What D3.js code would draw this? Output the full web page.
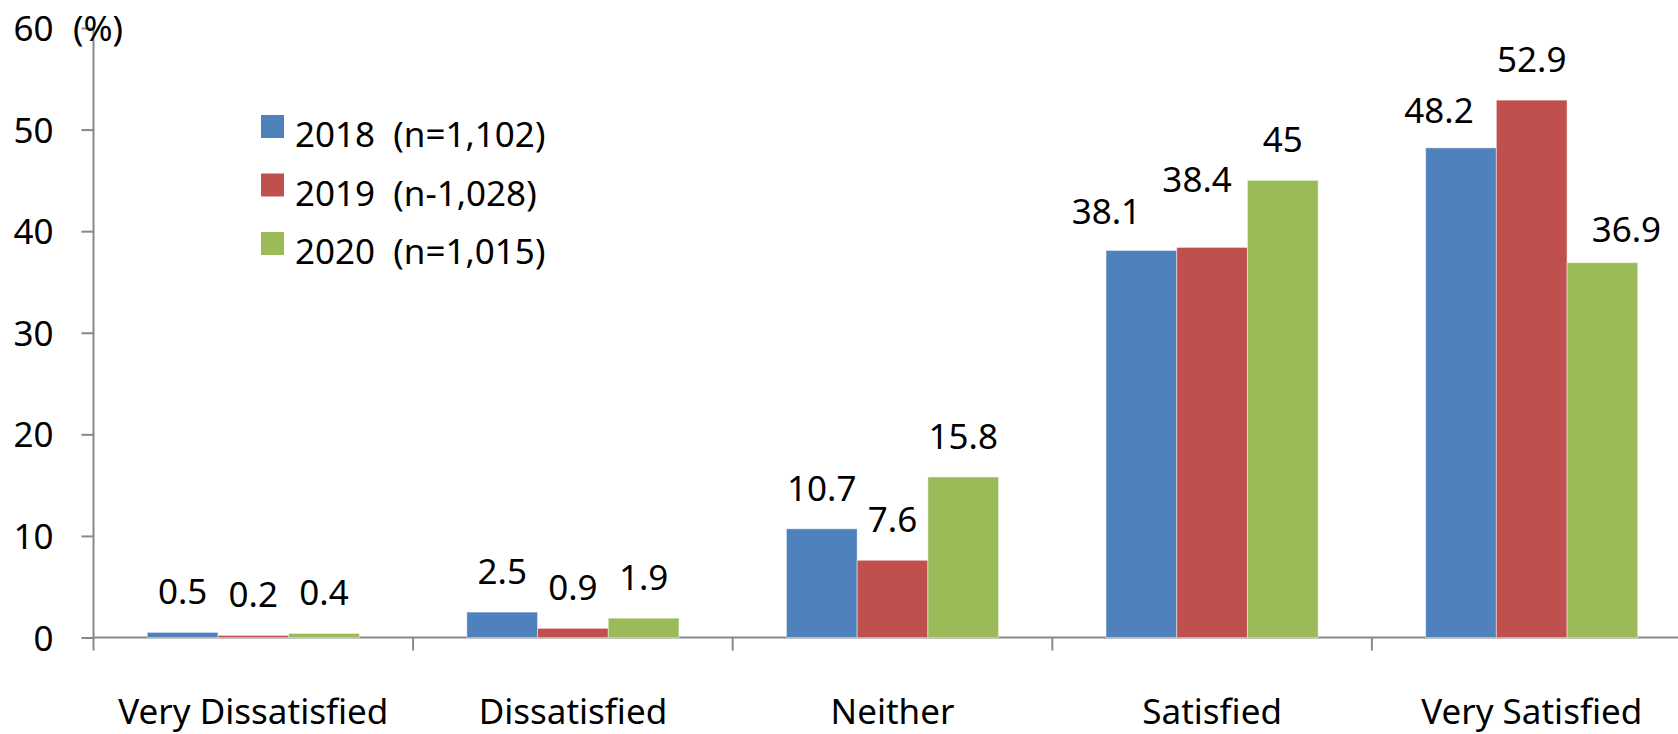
<!DOCTYPE html>
<html>
<head>
<meta charset="utf-8">
<script src="https://cdn.jsdelivr.net/npm/d3@7"></script>
<style>
  body { margin: 0; background: #fff; overflow: hidden; }
  text { font-family: "Noto Sans", "Open Sans", sans-serif; fill: #000; }
</style>
</head>
<body>
<script>
// satisfaction survey, three years
var categories = ["Very Dissatisfied", "Dissatisfied", "Neither", "Satisfied", "Very Satisfied"];
var seriesNames = ["2018\u00a0 (n=1,102)", "2019\u00a0 (n-1,028)", "2020\u00a0 (n=1,015)"];
var colors = ["#4F81BD", "#C0504D", "#9BBB59"];
var values2018 = [0.5, 2.5, 10.7, 38.1, 48.2];
var values2019 = [0.2, 0.9, 7.6, 38.4, 52.9];
var values2020 = [0.4, 1.9, 15.8, 45, 36.9];
var yTicks = [0, 10, 20, 30, 40, 50, 60];

// hand-moved data labels (as in the original), [dx, dy] in px
var labelNudge = {
  "0-3": [-35, 2],
  "1-3": [-15, -27],
  "0-4": [-22, 3],
  "2-4": [24, 7]
};

var w = 1678, h = 734;
var x0 = 93.5, yZero = 637.5, yTop = 28;
var bandW = 319.6;
var fs = "35px";

var series = [values2018, values2019, values2020];

var svg = d3.select("body").append("svg")
  .attr("width", w)
  .attr("height", h);

var x = d3.scaleBand()
  .domain(categories)
  .range([x0, x0 + bandW * categories.length])
  .paddingInner(0)
  .paddingOuter(0);

var xInner = d3.scaleBand()
  .domain(d3.range(series.length))
  .range([0, x.bandwidth()])
  .paddingOuter(0.76)
  .paddingInner(0);

var y = d3.scaleLinear()
  .domain([0, 60])
  .range([yZero, yTop]);

// y axis
var yAxis = svg.append("g")
  .attr("transform", "translate(" + x0 + ",0)")
  .call(d3.axisLeft(y).tickValues(yTicks).tickSize(12).tickPadding(28));
yAxis.selectAll("path, line").attr("stroke", "#888").attr("stroke-width", 2);
yAxis.select(".domain").attr("d", "M0," + yTop + "V" + yZero);
yAxis.selectAll("text")
  .style("font-size", fs)
  .attr("dy", "0.36em");

// x axis
var xAxis = svg.append("g")
  .attr("transform", "translate(0," + yZero + ")")
  .call(d3.axisBottom(x).tickSize(0).tickPadding(0));
xAxis.select(".domain").attr("stroke", "#888").attr("stroke-width", 2)
  .attr("d", "M" + x0 + ",0H" + (x0 + bandW * categories.length));
xAxis.selectAll(".tick text")
  .attr("y", 86)
  .attr("dy", 0)
  .style("font-size", fs);
// category separators
xAxis.selectAll(".sep")
  .data(d3.range(categories.length + 1))
  .enter().append("line")
  .attr("x1", function(d){ return x0 + d * bandW; })
  .attr("x2", function(d){ return x0 + d * bandW; })
  .attr("y1", 0)
  .attr("y2", 13)
  .attr("stroke", "#888")
  .attr("stroke-width", 2);

svg.append("text")
  .attr("x", 73)
  .attr("y", 41)
  .style("font-size", fs)
  .text("(%)");

// bars
var groups = svg.selectAll("g.cat")
  .data(categories)
  .enter().append("g")
  .attr("class", "cat")
  .attr("transform", function(d){ return "translate(" + x(d) + ",0)"; });

groups.each(function(cat, ci) {
  var g = d3.select(this);
  series.forEach(function(vals, si) {
    var v = vals[ci];
    var nudge = labelNudge[si + "-" + ci] || [0, 0];
    g.append("rect")
      .attr("x", xInner(si))
      .attr("y", y(v))
      .attr("width", xInner.bandwidth())
      .attr("height", yZero - y(v))
      .attr("fill", colors[si])
      .attr("stroke", "rgba(255,255,255,0.45)")
      .attr("stroke-width", 1);
    g.append("text")
      .attr("x", xInner(si) + xInner.bandwidth() / 2 + nudge[0])
      .attr("y", y(v) - 28 + nudge[1])
      .attr("text-anchor", "middle")
      .style("font-size", fs)
      .text(v);
  });
});

// legend
var legend = svg.append("g").attr("transform", "translate(261,115)");
seriesNames.forEach(function(name, i) {
  legend.append("rect")
    .attr("x", 0)
    .attr("y", i * 58.5)
    .attr("width", 23)
    .attr("height", 23)
    .attr("fill", colors[i]);
  legend.append("text")
    .attr("x", 34)
    .attr("y", i * 58.5 + 32)
    .style("font-size", fs)
    .text(name);
});
</script>
</body>
</html>
